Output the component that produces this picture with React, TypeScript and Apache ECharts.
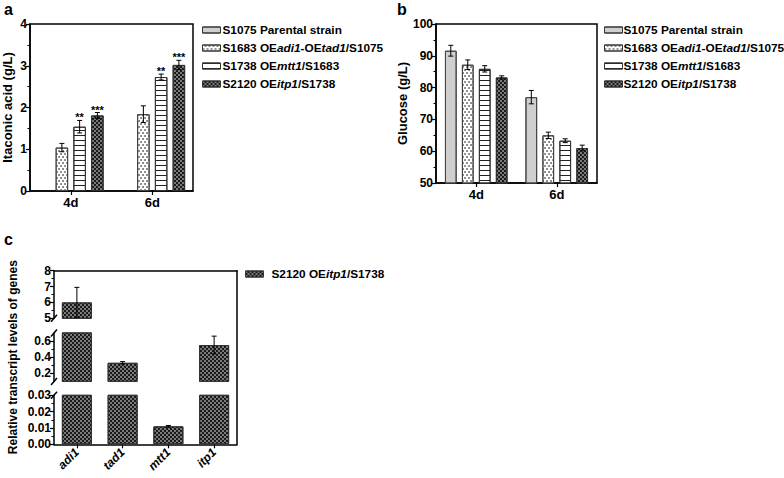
import { useEffect, useRef } from 'react';
import * as echarts from 'echarts';

const FONT = '"Liberation Sans", Arial, Helvetica, sans-serif';

// ---------- data ----------
const days = ['4d', '6d'];
const strains = [
  'S1075 Parental strain',
  'S1683 OEadi1-OEtad1/S1075',
  'S1738 OEmtt1/S1683',
  'S2120 OEitp1/S1738',
];

// panel a: itaconic acid (g/L)
const itaS1075: (number | null)[] = [null, null];
const itaS1683 = [1.04, 1.84];
const itaS1738 = [1.54, 2.73];
const itaS2120 = [1.81, 3.02];
const itaErrS1075: (number | null)[] = [null, null];
const itaErrS1683 = [0.1, 0.2];
const itaErrS1738 = [0.15, 0.07];
const itaErrS2120 = [0.07, 0.11];
const itaStarsS1075 = ['', ''];
const itaStarsS1683 = ['', ''];
const itaStarsS1738 = ['**', '**'];
const itaStarsS2120 = ['***', '***'];
const itaTicks = [0, 1, 2, 3, 4];

// panel b: glucose (g/L)
const gluS1075 = [91.6, 77.0];
const gluS1683 = [87.2, 65.0];
const gluS1738 = [85.9, 63.3];
const gluS2120 = [83.2, 61.0];
const gluErrS1075 = [1.7, 2.1];
const gluErrS1683 = [1.5, 1.0];
const gluErrS1738 = [1.0, 0.6];
const gluErrS2120 = [0.5, 0.9];
const gluTicks = [50, 60, 70, 80, 90, 100];

// panel c: relative transcript levels
const genes = ['adi1', 'tad1', 'mtt1', 'itp1'];
const transcript = [6.0, 0.33, 0.011, 0.55];
const transcriptErr = [0.95, 0.015, 0.0005, 0.11];
const cTopTicks = [5, 6, 7, 8];
const cMidTicks = [0.2, 0.4, 0.6];
const cMidRange = [0.1, 0.7];
const cMidMinor = [0.3, 0.5];
const cBotTicks = [0, 0.01, 0.02, 0.03];

// ---------- layout ----------
const GA = { left: 29, top: 24, width: 164, height: 167 };
const GB = { left: 436, top: 24, width: 161, height: 159 };
const CL = 54;
const CW = 183;
const CT = { top: 270.7, height: 47.6 };
const CM = { top: 332.9, height: 48.5 };
const CBt = { top: 395.3, height: 49 };

const decalNone = { symbol: 'none', color: 'rgba(0,0,0,0)', rotation: 0 };
const decalDots = {
  symbol: 'circle', symbolSize: 0.9, rotation: 0,
  dashArrayX: [[2, 2], [0, 2, 2, 0]], dashArrayY: [2, 1],
  color: '#666666', backgroundColor: '#ffffff',
};
const decalStripes = {
  symbol: 'rect', symbolSize: 1, rotation: 0,
  dashArrayX: [1, 0], dashArrayY: [1, 3.5],
  color: '#222222', backgroundColor: '#ffffff',
};
const decalChecker = {
  symbol: 'rect', symbolSize: 1, rotation: 0,
  dashArrayX: [[2, 2], [0, 2, 2, 0]], dashArrayY: [2, 0],
  color: '#1a1a1a', backgroundColor: '#a0a0a0',
};
const strainStyles = [
  { color: '#cfcfcf', borderColor: '#444', borderWidth: 1, decal: decalNone },
  { color: '#ffffff', borderColor: '#444', borderWidth: 1, decal: decalDots },
  { color: '#ffffff', borderColor: '#333', borderWidth: 1, decal: decalStripes },
  { color: '#7a7a7a', borderColor: '#333', borderWidth: 1, decal: decalChecker },
];

const axisLine = { show: true, onZero: false, lineStyle: { color: '#000', width: 1.5 } };
const axisTick = { show: true, length: 4, lineStyle: { color: '#000', width: 1.2 } };
const minorTick = { show: true, splitNumber: 2, length: 2.5, lineStyle: { color: '#000', width: 1 } };
const labelStyle = { color: '#000', fontFamily: FONT, fontWeight: 'bold', fontSize: 12, margin: 3 };
const nameStyle = { color: '#000', fontFamily: FONT, fontWeight: 'bold', fontSize: 13 };

const LEG_FS = 11.8;
const richLegend = {
  b: { fontFamily: FONT, fontWeight: 'bold', fontSize: LEG_FS, color: '#000' },
  i: { fontFamily: FONT, fontWeight: 'bold', fontStyle: 'italic', fontSize: LEG_FS, color: '#000' },
};
const legendFormatter = (name: string) =>
  name
    .split(/(adi1|tad1|mtt1|itp1)/)
    .map((p, i) => (p === '' ? '' : i % 2 ? `{i|${p}}` : `{b|${p}}`))
    .join('');

function errSeries(
  name: string, xi: number, yi: number, values: (number | null)[], errs: (number | null)[],
  slot: number, count: number, step: number, stars: string[] | null,
  range: [number, number] | null,
) {
  const data: number[][] = [];
  values.forEach((v, i) => {
    const e = errs[i];
    if (v == null || e == null) return;
    if (range && (v < range[0] || v > range[1])) return;
    data.push([i, v, e]);
  });
  return {
    type: 'custom', name, xAxisIndex: xi, yAxisIndex: yi, z: 5, clip: true,
    data,
    renderItem: (params: any, api: any) => {
      const i = api.value(0);
      const v = api.value(1);
      const e = api.value(2);
      const c = api.coord([i, v]);
      const x = c[0] + (slot - (count - 1) / 2) * step;
      const yT = api.coord([i, v + e])[1];
      const yB = api.coord([i, v - e])[1];
      const st = { stroke: '#000', lineWidth: 1 };
      const cap = 2.5;
      const children: any[] = [
        { type: 'line', shape: { x1: x, y1: yT, x2: x, y2: yB }, style: st },
        { type: 'line', shape: { x1: x - cap, y1: yT, x2: x + cap, y2: yT }, style: st },
        { type: 'line', shape: { x1: x - cap, y1: yB, x2: x + cap, y2: yB }, style: st },
      ];
      const s = stars ? stars[i] : '';
      if (s) {
        children.push({
          type: 'text', x, y: yT - 3,
          style: { text: s, fill: '#000', font: `bold 11px ${FONT}`, align: 'center', verticalAlign: 'middle' },
        });
      }
      return { type: 'group', children };
    },
  };
}

function slash(x: number, y: number) {
  return {
    type: 'line', z: 10,
    shape: { x1: x - 3, y1: y + 3.5, x2: x + 3, y2: y - 3.5 },
    style: { stroke: '#000', lineWidth: 1.5 },
  };
}

function legendFor(names: string[], left: number, top: number, padLeft: number) {
  return {
    data: names, left, top, orient: 'vertical', icon: 'rect',
    itemWidth: 18, itemHeight: 6, itemGap: 6, selectedMode: false,
    itemStyle: { borderColor: '#333', borderWidth: 1 },
    formatter: legendFormatter,
    textStyle: { rich: richLegend, padding: [0, 0, 0, padLeft] },
  };
}

export default function App() {
  const ref = useRef<HTMLDivElement>(null);

  useEffect(() => {
    if (!ref.current) return;
    const chart = echarts.init(ref.current, undefined, { renderer: 'svg' });

    const itaVals = [itaS1075, itaS1683, itaS1738, itaS2120];
    const itaErrs = [itaErrS1075, itaErrS1683, itaErrS1738, itaErrS2120];
    const itaStars = [itaStarsS1075, itaStarsS1683, itaStarsS1738, itaStarsS2120];
    const gluVals = [gluS1075, gluS1683, gluS1738, gluS2120];
    const gluErrs = [gluErrS1075, gluErrS1683, gluErrS1738, gluErrS2120];

    const barWA = 12.5, gapA = 0.42;
    const barWB = 11.7, gapB = 0.45;
    const barWC = 30;

    const series: any[] = [];
    strains.forEach((s, k) => {
      series.push({
        type: 'bar', name: s, xAxisIndex: 0, yAxisIndex: 0, data: itaVals[k],
        barWidth: barWA, barGap: `${gapA * 100}%`, itemStyle: strainStyles[k],
      });
      series.push({
        type: 'bar', name: s, xAxisIndex: 1, yAxisIndex: 1, data: gluVals[k],
        barWidth: barWB, barGap: `${gapB * 100}%`, itemStyle: strainStyles[k],
      });
    });
    strains.forEach((s, k) => {
      series.push(errSeries(`ea${k}`, 0, 0, itaVals[k], itaErrs[k], k, 4, barWA * (1 + gapA), itaStars[k], null));
      series.push(errSeries(`eb${k}`, 1, 1, gluVals[k], gluErrs[k], k, 4, barWB * (1 + gapB), null, null));
    });

    // panel c segments
    const segs: { xi: number; yi: number; range: [number, number] }[] = [
      { xi: 2, yi: 2, range: [cTopTicks[0], cTopTicks[cTopTicks.length - 1]] },
      { xi: 3, yi: 3, range: [cMidRange[0], cMidRange[1]] },
      { xi: 4, yi: 4, range: [cBotTicks[0], cBotTicks[cBotTicks.length - 1]] },
    ];
    segs.forEach((sg, j) => {
      series.push({
        type: 'bar', name: strains[3], xAxisIndex: sg.xi, yAxisIndex: sg.yi,
        data: transcript.map((v) => (v > sg.range[0] ? v : null)),
        barWidth: barWC, itemStyle: strainStyles[3],
      });
      series.push(errSeries(`ec${j}`, sg.xi, sg.yi, transcript, transcriptErr, 0, 1, 0, null, sg.range));
    });

    const hiddenCat = (gi: number) => ({
      type: 'category', gridIndex: gi, data: genes, show: false,
    });

    const option: any = {
      animation: false,
      aria: { enabled: true, decal: { show: true } },
      textStyle: { fontFamily: FONT },
      grid: [
        { ...GA, show: true, borderColor: '#000', borderWidth: 1.5, backgroundColor: 'transparent' },
        { ...GB, show: true, borderColor: '#000', borderWidth: 1.5, backgroundColor: 'transparent' },
        { left: CL, width: CW, ...CT },
        { left: CL, width: CW, ...CM },
        { left: CL, width: CW, ...CBt },
        { left: CL, width: CW, top: CT.top, height: CBt.top + CBt.height - CT.top },
        { left: CL, width: CW, ...CM },
      ],
      xAxis: [
        {
          type: 'category', gridIndex: 0, data: days, axisLine,
          axisTick: { ...axisTick, alignWithLabel: true },
          axisLabel: { ...labelStyle, fontSize: 13, margin: 5 },
        },
        {
          type: 'category', gridIndex: 1, data: days, axisLine,
          axisTick: { ...axisTick, alignWithLabel: true },
          axisLabel: { ...labelStyle, fontSize: 13, margin: 5 },
        },
        hiddenCat(2),
        hiddenCat(3),
        {
          type: 'category', gridIndex: 4, data: genes, axisLine,
          axisTick: { ...axisTick, alignWithLabel: true },
          axisLabel: { ...labelStyle, fontStyle: 'italic', rotate: 45, margin: 6 },
        },
        {
          type: 'value', gridIndex: 5, position: 'top', min: 0, max: 1, axisLine,
          axisTick: { show: false }, axisLabel: { show: false }, splitLine: { show: false },
        },
        { type: 'value', gridIndex: 6, min: 0, max: 1, show: false },
      ],
      yAxis: [
        {
          type: 'value', gridIndex: 0, min: itaTicks[0], max: itaTicks[itaTicks.length - 1], interval: 1,
          axisLine, axisTick, minorTick, splitLine: { show: false }, minorSplitLine: { show: false },
          axisLabel: labelStyle,
          name: 'Itaconic acid (g/L)', nameLocation: 'middle', nameGap: 16, nameTextStyle: nameStyle,
        },
        {
          type: 'value', gridIndex: 1, min: gluTicks[0], max: gluTicks[gluTicks.length - 1], interval: 10,
          axisLine, axisTick, minorTick, splitLine: { show: false },
          axisLabel: labelStyle,
          name: 'Glucose (g/L)', nameLocation: 'middle', nameGap: 23, nameTextStyle: nameStyle,
        },
        {
          type: 'value', gridIndex: 2, min: cTopTicks[0], max: cTopTicks[cTopTicks.length - 1], interval: 1,
          axisLine, axisTick, minorTick, splitLine: { show: false },
          axisLabel: labelStyle,
        },
        {
          type: 'value', gridIndex: 3, min: cMidRange[0], max: cMidRange[1],
          axisLine, axisTick: { ...axisTick, customValues: cMidTicks }, splitLine: { show: false },
          axisLabel: { ...labelStyle, customValues: cMidTicks },
          name: 'Relative transcript levels of genes', nameLocation: 'middle', nameGap: 35,
          nameTextStyle: { ...nameStyle, fontSize: 12 },
        },
        {
          type: 'value', gridIndex: 4, min: cBotTicks[0], max: cBotTicks[cBotTicks.length - 1], interval: 0.01,
          axisLine, axisTick, minorTick, splitLine: { show: false },
          axisLabel: { ...labelStyle, formatter: (v: number) => v.toFixed(2) },
        },
        {
          type: 'value', gridIndex: 5, position: 'right', min: 0, max: 1, axisLine,
          axisTick: { show: false }, axisLabel: { show: false }, splitLine: { show: false },
        },
        {
          type: 'value', gridIndex: 6, min: cMidRange[0], max: cMidRange[1],
          axisLine: { show: false }, axisLabel: { show: false }, splitLine: { show: false },
          axisTick: { show: true, length: 2.5, lineStyle: { color: '#000', width: 1 }, customValues: cMidMinor },
        },
      ],
      legend: [
        legendFor(strains, 197, 19, -3),
        legendFor(strains, 599, 19, -4),
        legendFor([strains[3]], 240, 263, 3),
      ],
      graphic: [
        { type: 'text', left: 4, top: 1, style: { text: 'a', font: `bold 16px ${FONT}`, fill: '#000' } },
        { type: 'text', left: 397, top: 1, style: { text: 'b', font: `bold 16px ${FONT}`, fill: '#000' } },
        { type: 'text', left: 4, top: 231, style: { text: 'c', font: `bold 16px ${FONT}`, fill: '#000' } },
        slash(CL, CT.top + CT.height),
        slash(CL, CM.top),
        slash(CL, CM.top + CM.height),
        slash(CL, CBt.top),
      ],
      series,
    };

    chart.setOption(option);
    return () => chart.dispose();
  }, []);

  return (
    <div
      ref={ref}
      style={{ position: 'fixed', left: 0, top: 0, width: 784, height: 478, background: '#fff' }}
    />
  );
}
